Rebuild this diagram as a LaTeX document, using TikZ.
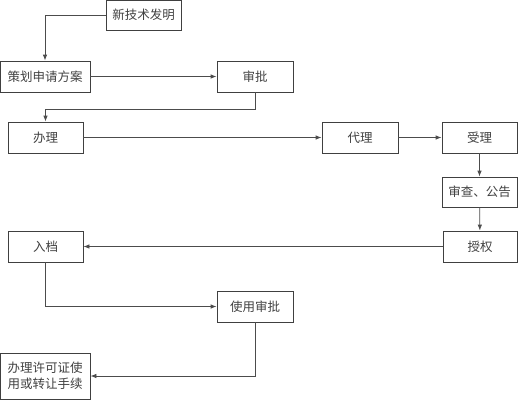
\documentclass[tikz,border=0pt]{standalone}
\usepackage{fontspec}
\newfontfamily\cjk{Noto Sans CJK SC}
\usetikzlibrary{arrows.meta}
\tikzset{
  box/.style={draw=black!75, line width=0.8pt, text=black!75, font=\cjk\fontsize{12.5}{16}\selectfont,
    minimum width=75pt, minimum height=31pt, inner sep=1pt, align=center},
  link/.style={draw=black!70, line width=0.8pt, -{Latex[length=6pt,width=4.5pt]}},
}
\begin{document}
\begin{tikzpicture}[x=1pt,y=-1pt]
    \useasboundingbox (0,0) rectangle (518,400);
    % boxes
    \node[box, minimum height=30pt] (idea) at (143.5,15) {新技术发明};
    \node[box, minimum width=90pt] (plan) at (45,76.5) {策划申请方案};
    \node[box, minimum width=76pt] (check) at (255,76.5) {审批};
    \node[box] (apply) at (45.5,137.5) {办理};
    \node[box, minimum width=76pt] (agent) at (360,137.5) {代理};
    \node[box] (accept) at (479.5,137.5) {受理};
    \node[box, minimum height=30pt] (review) at (479.5,192) {审查、公告};
    \node[box, minimum width=74pt] (grant) at (480,246.5) {授权};
    \node[box] (file) at (45.5,246.5) {入档};
    \node[box, minimum width=76pt] (use) at (255,306.5) {使用审批};
    \node[box, minimum width=90pt, minimum height=46pt] (licence) at (45,376) {办理许可证使\\用或转让手续};
    % connectors
    \draw[link] (idea.west) -| (plan.north);
    \draw[link] (plan) -- (check);
    \draw[link] (check.south) -- ++(0,16.5) -| (apply.north);
    \draw[link] (apply) -- (agent);
    \draw[link] (agent) -- (accept);
    \draw[link] (accept) -- (review);
    \draw[link] (review) -- (grant);
    \draw[link] (grant) -- (file);
    \draw[link] (file.south) |- (use.west);
    \draw[link] (use.south) |- (licence.east);
\end{tikzpicture}
\end{document}
